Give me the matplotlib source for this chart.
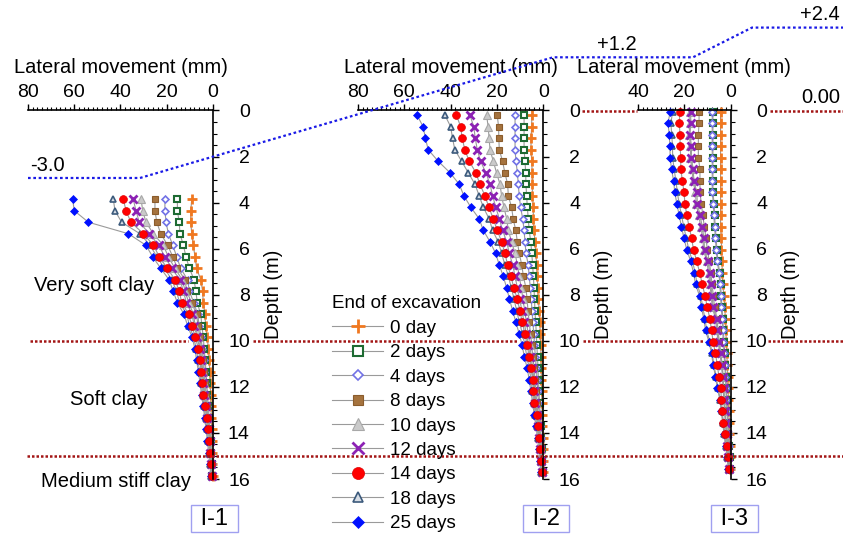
import numpy as np
import matplotlib
matplotlib.use("Agg")
import matplotlib.pyplot as plt
from matplotlib.lines import Line2D
from matplotlib.ticker import MultipleLocator

plt.rcParams['font.family'] = ['Liberation Sans', 'DejaVu Sans']

W, H = 843, 535

labels = ["0 day", "2 days", "4 days", "8 days", "10 days",
          "12 days", "14 days", "18 days", "25 days"]

# inclinometer readings every 0.5 m
depth_i1 = np.arange(25) * 0.5 + 3.85
depth_i2 = np.arange(32) * 0.5 + 0.2
depth_i3 = np.arange(32) * 0.5 + 0.05

# I-1 lateral movement (mm)
i1_d0 = [9.2, 9.6, 9.6, 9.2, 8.5, 7.8, 7.1, 5.3, 4.5, 4.2, 3.5, 3.2, 2.5, 2.0, 1.6, 1.4, 1.2, 1.0, 0.9, 0.7, 0.6, 0.5, 0.4, 0.3, 0.2]
i1_d2 = [15.4, 15.4, 14.6, 14.3, 12.8, 11.7, 10.2, 8.2, 7.4, 6.8, 5.3, 4.8, 4.2, 3.8, 3.4, 3.0, 2.7, 2.4, 2.0, 1.7, 1.3, 1.0, 0.8, 0.5, 0.3]
i1_d4 = [20.8, 20.8, 20.3, 19.3, 17.4, 15.7, 14.0, 11.0, 10.2, 8.3, 6.6, 6.0, 5.2, 4.6, 4.1, 3.7, 3.3, 2.9, 2.5, 2.0, 1.6, 1.2, 0.9, 0.6, 0.4]
i1_d8 = [25.1, 25.1, 24.3, 22.6, 19.6, 17.4, 15.4, 12.1, 11.4, 9.2, 7.1, 6.5, 5.7, 5.0, 4.5, 4.0, 3.6, 3.2, 2.7, 2.2, 1.7, 1.3, 1.0, 0.7, 0.4]
i1_d10 = [31.1, 30.4, 29.0, 25.8, 21.5, 19.3, 16.5, 13.3, 12.0, 10.5, 8.4, 7.7, 6.4, 5.5, 4.9, 4.4, 4.0, 3.6, 3.0, 2.4, 1.8, 1.4, 1.1, 0.8, 0.5]
i1_d12 = [34.5, 33.3, 31.9, 27.5, 23.5, 20.8, 17.9, 14.3, 12.8, 11.5, 9.0, 8.2, 6.8, 5.8, 5.2, 4.7, 4.2, 3.8, 3.2, 2.5, 1.9, 1.5, 1.2, 0.8, 0.5]
i1_d14 = [38.8, 37.6, 35.5, 30.1, 25.8, 23.2, 19.8, 16.4, 14.6, 13.5, 10.5, 9.2, 7.6, 6.3, 5.6, 5.2, 4.6, 4.2, 3.5, 2.7, 2.0, 1.6, 1.3, 0.9, 0.6]
i1_d18 = [43.1, 42.4, 39.5, 31.6, 27.2, 24.3, 21.0, 17.8, 15.8, 14.4, 11.3, 10.2, 8.4, 7.2, 6.5, 5.8, 5.1, 4.5, 3.9, 3.2, 2.6, 2.0, 1.6, 1.2, 0.8]
i1_d25 = [60.7, 60.0, 53.9, 36.6, 29.0, 26.1, 22.6, 19.0, 17.2, 15.4, 12.5, 11.0, 9.0, 7.8, 7.1, 6.3, 5.6, 4.9, 4.2, 3.6, 3.0, 2.4, 1.9, 1.4, 1.0]

# I-2 lateral movement (mm)
i2_d0 = [5.0, 5.0, 5.3, 5.3, 5.0, 4.8, 4.7, 4.7, 4.3, 4.3, 4.0, 3.6, 3.2, 2.9, 2.6, 2.4, 2.2, 1.7, 1.5, 1.3, 1.1, 1.0, 0.9, 0.8, 0.7, 0.6, 0.5, 0.4, 0.3, 0.2, 0.2, 0.1]
i2_d2 = [8.3, 8.3, 8.3, 8.3, 7.9, 7.6, 7.5, 7.2, 6.9, 6.5, 6.1, 5.4, 5.0, 4.6, 4.3, 4.0, 3.8, 3.6, 3.3, 3.0, 2.8, 2.5, 2.3, 2.1, 1.9, 1.6, 1.4, 1.2, 0.9, 0.7, 0.5, 0.3]
i2_d4 = [12.2, 12.2, 12.2, 12.2, 11.8, 11.2, 10.8, 10.4, 9.8, 8.9, 8.3, 7.9, 7.5, 6.5, 6.1, 5.6, 5.2, 4.9, 4.5, 4.1, 3.8, 3.4, 3.0, 2.7, 2.4, 2.1, 1.8, 1.5, 1.2, 0.9, 0.6, 0.4]
i2_d8 = [19.9, 19.3, 19.2, 19.0, 17.6, 16.6, 15.4, 15.1, 13.7, 13.0, 11.9, 11.2, 10.4, 9.3, 8.6, 7.5, 7.0, 6.6, 6.1, 5.5, 5.0, 4.5, 4.0, 3.6, 3.2, 2.8, 2.3, 1.9, 1.5, 1.1, 0.8, 0.5]
i2_d10 = [24.5, 23.8, 23.4, 23.0, 21.6, 20.2, 18.7, 18.0, 17.0, 15.8, 15.1, 13.7, 12.2, 11.2, 10.4, 9.5, 8.8, 8.0, 7.3, 6.5, 5.8, 5.2, 4.6, 4.0, 3.6, 3.2, 2.6, 2.1, 1.6, 1.2, 0.9, 0.6]
i2_d12 = [31.7, 30.0, 29.4, 28.5, 27.1, 24.8, 23.0, 21.9, 20.5, 19.0, 17.6, 15.8, 14.7, 13.2, 12.2, 11.2, 10.2, 9.2, 8.3, 7.3, 6.4, 5.7, 5.0, 4.4, 4.0, 3.6, 2.8, 2.3, 1.7, 1.3, 1.0, 0.7]
i2_d14 = [37.5, 35.7, 35.0, 33.9, 32.0, 29.1, 27.4, 25.2, 23.5, 21.6, 19.9, 18.0, 16.6, 15.4, 14.0, 12.7, 11.2, 10.1, 9.1, 7.9, 6.9, 6.1, 5.3, 4.6, 4.3, 3.9, 2.9, 2.4, 1.7, 1.4, 1.0, 0.7]
i2_d18 = [42.5, 40.0, 39.2, 38.2, 35.3, 32.4, 29.5, 27.7, 25.9, 23.4, 21.9, 19.5, 18.0, 16.6, 15.1, 13.8, 12.6, 11.5, 10.3, 9.0, 7.9, 7.1, 6.0, 5.3, 4.7, 4.1, 3.4, 2.8, 2.1, 1.6, 1.2, 0.8]
i2_d25 = [54.5, 51.9, 50.9, 49.7, 45.4, 40.3, 36.3, 34.3, 31.3, 27.7, 25.9, 23.0, 20.6, 19.0, 17.3, 15.8, 14.6, 13.2, 11.8, 10.4, 9.1, 8.2, 6.9, 6.1, 5.3, 4.6, 3.9, 3.2, 2.5, 2.0, 1.5, 1.1]

# I-3 lateral movement (mm)
i3_d0 = [4.3, 4.3, 4.3, 4.3, 4.3, 4.3, 4.3, 4.3, 4.3, 4.3, 4.3, 3.9, 3.9, 3.6, 3.6, 3.4, 2.8, 2.5, 2.2, 2.0, 1.8, 1.6, 1.4, 1.2, 1.0, 0.9, 0.7, 0.6, 0.5, 0.3, 0.2, 0.1]
i3_d2 = [7.6, 7.6, 7.6, 7.6, 7.6, 7.6, 7.6, 7.6, 7.1, 6.9, 6.6, 6.2, 5.9, 5.4, 4.7, 4.3, 4.0, 3.7, 3.3, 3.1, 2.8, 2.5, 2.2, 2.0, 1.8, 1.6, 1.3, 1.1, 0.9, 0.7, 0.4, 0.2]
i3_d4 = [7.9, 7.9, 7.9, 7.9, 7.9, 7.9, 7.9, 7.9, 7.4, 7.2, 6.9, 6.5, 6.2, 5.7, 5.0, 4.6, 4.3, 4.0, 3.6, 3.4, 3.1, 2.8, 2.5, 2.2, 2.0, 1.8, 1.5, 1.3, 1.0, 0.8, 0.5, 0.3]
i3_d8 = [13.6, 13.6, 13.9, 13.9, 13.9, 13.2, 13.2, 13.2, 12.6, 12.0, 11.3, 10.6, 10.0, 9.2, 8.5, 8.0, 7.4, 6.9, 5.8, 5.4, 4.8, 4.2, 3.6, 3.2, 2.9, 2.6, 2.3, 2.0, 1.6, 1.2, 0.8, 0.5]
i3_d10 = [17.6, 17.6, 17.9, 17.3, 17.3, 16.7, 16.2, 15.2, 14.8, 13.8, 12.8, 12.0, 11.6, 10.3, 9.4, 9.0, 8.3, 7.9, 6.4, 6.0, 5.3, 4.6, 3.9, 3.5, 3.2, 2.9, 2.6, 2.2, 1.8, 1.4, 1.0, 0.6]
i3_d12 = [17.2, 17.2, 17.5, 16.9, 16.9, 16.2, 15.8, 14.6, 14.3, 13.2, 12.2, 11.5, 11.2, 9.8, 8.9, 8.6, 7.9, 7.5, 6.0, 5.7, 5.0, 4.3, 3.6, 3.3, 3.0, 2.7, 2.4, 2.1, 1.7, 1.3, 0.9, 0.5]
i3_d14 = [21.8, 22.2, 21.8, 21.8, 21.5, 21.5, 20.8, 20.1, 19.7, 18.9, 17.9, 16.8, 16.0, 14.6, 13.3, 12.2, 11.0, 10.0, 8.9, 8.2, 7.5, 6.5, 5.7, 5.0, 4.3, 3.9, 3.6, 3.1, 2.4, 1.7, 1.1, 0.5]
i3_d18 = [25.0, 25.8, 25.4, 25.1, 25.0, 24.4, 23.6, 23.0, 22.2, 21.2, 20.2, 19.1, 18.0, 16.4, 15.3, 14.4, 12.8, 12.0, 11.0, 10.3, 8.9, 7.9, 7.2, 6.2, 5.4, 4.4, 3.8, 3.2, 2.6, 2.0, 1.4, 0.8]
i3_d25 = [26.1, 27.0, 26.5, 26.2, 26.1, 25.5, 24.6, 24.1, 23.2, 22.2, 21.2, 20.1, 18.9, 17.2, 16.0, 15.1, 13.4, 12.6, 11.5, 10.8, 9.3, 8.2, 7.5, 6.5, 5.7, 4.6, 4.0, 3.4, 2.8, 2.1, 1.5, 0.9]

i1_series = [i1_d0, i1_d2, i1_d4, i1_d8, i1_d10, i1_d12, i1_d14, i1_d18, i1_d25]
i2_series = [i2_d0, i2_d2, i2_d4, i2_d8, i2_d10, i2_d12, i2_d14, i2_d18, i2_d25]
i3_series = [i3_d0, i3_d2, i3_d4, i3_d8, i3_d10, i3_d12, i3_d14, i3_d18, i3_d25]

# excavation level profile (x in px, depth in m)
level_x = [28, 140, 553, 693, 752, 843]
level_depth = [2.93, 2.93, -2.31, -2.31, -3.6, -3.6]

# marker style per stage
styles = [
    dict(marker='+', ms=6.5, mew=2.0, mfc='#F07820', mec='#F07820'),
    dict(marker='s', ms=4.3, mew=1.5, mfc='white', mec='#1E6B33'),
    dict(marker='D', ms=3.5, mew=1.2, mfc='white', mec='#7272E6'),
    dict(marker='s', ms=4.8, mew=0.8, mfc='#A5733E', mec='#8A5C2C'),
    dict(marker='^', ms=5.7, mew=0.8, mfc='#CACACA', mec='#A8A8A8'),
    dict(marker='x', ms=5.2, mew=2.0, mfc='#8C22B4', mec='#8C22B4'),
    dict(marker='o', ms=5.6, mew=0.5, mfc='#FF0000', mec='#E00000'),
    dict(marker='^', ms=4.5, mew=1.2, mfc='#D8DEE6', mec='#3C5A7C'),
    dict(marker='D', ms=4.2, mew=0.5, mfc='#0010FF', mec='#0010FF'),
]
draw_order = [0, 1, 2, 3, 4, 5, 7, 8, 6]
line_grey = '#9A9A9A'

Y0, Y16 = 110.5, 479.0          # px rows of depth 0 and 16
ppm = (Y16 - Y0) / 16.0

fig = plt.figure(figsize=(W / 100, H / 100), dpi=100)


def make_panel(x_left, x_right, xmax, depths, series):
    ax = fig.add_axes([x_left / W, (H - Y16) / H, (x_right - x_left) / W, (Y16 - Y0) / H])
    for i in draw_order:
        ax.plot(series[i], depths, color=line_grey, lw=0.8, zorder=2,
                clip_on=False, **styles[i])
    ax.set_xlim(xmax, 0)
    ax.set_ylim(16, 0)
    ax.xaxis.tick_top()
    ax.xaxis.set_label_position('top')
    ax.yaxis.tick_right()
    ax.yaxis.set_label_position('right')
    ax.spines['left'].set_visible(False)
    ax.spines['bottom'].set_visible(False)
    for s in ['top', 'right']:
        ax.spines[s].set_linewidth(1.2)
    ax.xaxis.set_major_locator(MultipleLocator(20))
    ax.xaxis.set_minor_locator(MultipleLocator(2))
    ax.yaxis.set_major_locator(MultipleLocator(2))
    ax.yaxis.set_minor_locator(MultipleLocator(0.5))
    ax.tick_params(axis='x', which='major', direction='out', length=4.5, width=1,
                   labelsize=14, pad=2)
    ax.tick_params(axis='x', which='minor', direction='out', length=2.5, width=0.8)
    ax.tick_params(axis='y', which='major', direction='out', length=4.5, width=1,
                   labelsize=14, pad=22)
    ax.tick_params(axis='y', which='minor', direction='out', length=3, width=0.8)
    plt.setp(ax.get_yticklabels(), ha='right')
    ax.set_xlabel('Lateral movement (mm)', fontsize=14.5, labelpad=8)
    ax.set_ylabel('Depth (m)', fontsize=14.5)
    ax.yaxis.set_label_coords(1 + 51 / (x_right - x_left), 0.5)
    ax.patch.set_alpha(0)
    return ax


make_panel(28, 213, 80, depth_i1, i1_series)
make_panel(358, 543.3, 80, depth_i2, i2_series)
make_panel(638, 730.5, 40, depth_i3, i3_series)

# overlay: x in px, y in depth (m), aligned with the panels
bg = fig.add_axes([0, 0, 1, 1], zorder=5)
bg.set_xlim(0, W)
bg.set_ylim((H - Y0) / ppm, -Y0 / ppm)
bg.axis('off')

red = dict(color='#A31515', lw=1.8, ls=(0, (1, 0.8)))
for x0, x1 in [(582, 637), (770, 843)]:
    bg.plot([x0, x1], [0, 0], **red)
for x0, x1 in [(30, 188), (253, 518), (583, 703), (768, 843)]:
    bg.plot([x0, x1], [10, 10], **red)
bg.plot([27, 843], [15, 15], **red)

bg.plot(level_x, level_depth, color='#1A1AE6', lw=1.6, ls=(0, (1.2, 1.2)))
bg.text(30, level_depth[0] - 0.15, '-3.0', fontsize=14.5, ha='left', va='bottom')
bg.text(597, level_depth[2] - 0.15, '+1.2', fontsize=14.5, ha='left', va='bottom')
bg.text(800, level_depth[4] - 0.15, '+2.4', fontsize=14.5, ha='left', va='bottom')
bg.text(801, -0.15, '0.00', fontsize=14.5, ha='left', va='bottom')

bg.text(94, 7.6, 'Very soft clay', fontsize=14.5, ha='center', va='center')
bg.text(109, 12.55, 'Soft clay', fontsize=14.5, ha='center', va='center')
bg.text(116, 16.1, 'Medium stiff clay', fontsize=14.5, ha='center', va='center')

box = dict(boxstyle='square,pad=0.12', fc='white', ec='#A0A0F0', lw=1)
for xc, name in [(214.5, 'I-1'), (546, 'I-2'), (734.5, 'I-3')]:
    bg.text(xc, 17.72, ' ' + name + ' ', fontsize=17, ha='center', va='center', bbox=box)

handles = [Line2D([], [], color=line_grey, lw=0.8, **st) for st in styles]
fig.legend(handles, labels, title='End of excavation', loc='upper left',
           bbox_to_anchor=(323 / W, 1 - 286 / H), frameon=False, fontsize=13.5,
           title_fontsize=13.5, alignment='left', handlelength=2.7,
           handletextpad=0.4, labelspacing=0.39, borderpad=0, markerscale=1.55)

fig.savefig('out.png', dpi=100)
